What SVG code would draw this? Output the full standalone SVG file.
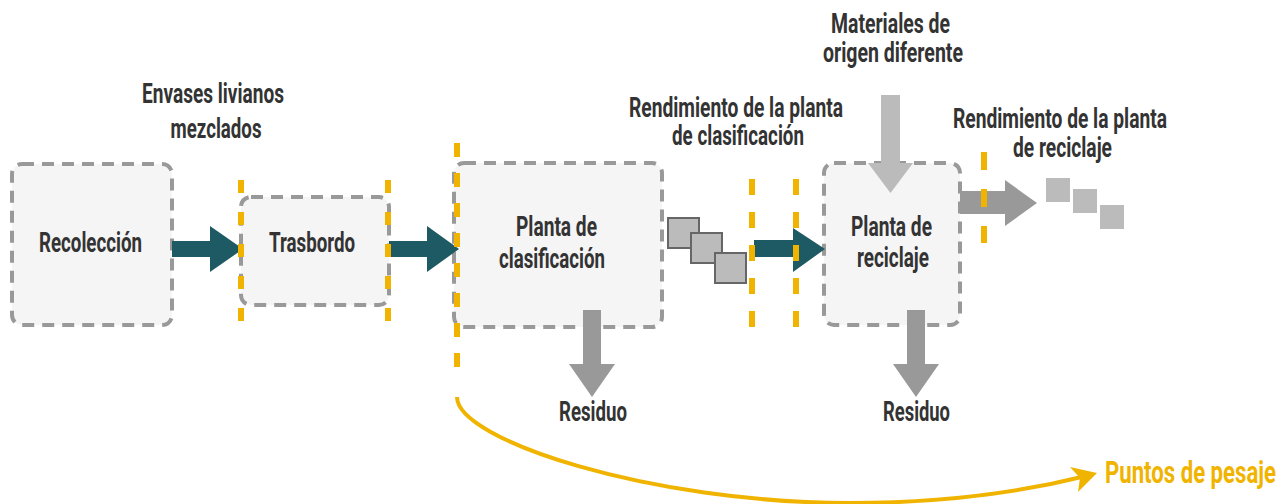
<svg xmlns="http://www.w3.org/2000/svg" width="1284" height="504" viewBox="0 0 1284 504">
<style>
.box{fill:#f5f5f5;stroke:#999;stroke-width:4;stroke-dasharray:12 8}
.t{font-family:Roboto,"Liberation Sans",sans-serif;font-weight:700;font-size:27px;fill:#333;text-anchor:middle}
.y{fill:none;stroke:#f0b400;stroke-width:6}
.teal{fill:#1e5a63}
.grey{fill:#999}
.light{fill:#bbb}
.sq{fill:#bbb;stroke:#666;stroke-width:2}
</style>
<rect width="1284" height="504" fill="#fff"/>
<g id="labels">
<text class="t" x="213" y="103" textLength="142" lengthAdjust="spacingAndGlyphs">Envases livianos</text>
<text class="t" x="216" y="138" textLength="91" lengthAdjust="spacingAndGlyphs">mezclados</text>
<text class="t" x="736" y="117" textLength="214" lengthAdjust="spacingAndGlyphs">Rendimiento de la planta</text>
<text class="t" x="738" y="145" textLength="132" lengthAdjust="spacingAndGlyphs">de clasificación</text>
<text class="t" x="890.5" y="33" textLength="119" lengthAdjust="spacingAndGlyphs">Materiales de</text>
<text class="t" x="893" y="62" textLength="140" lengthAdjust="spacingAndGlyphs">origen diferente</text>
<text class="t" x="1060" y="128" textLength="214" lengthAdjust="spacingAndGlyphs">Rendimiento de la planta</text>
<text class="t" x="1062.5" y="157" textLength="99" lengthAdjust="spacingAndGlyphs">de reciclaje</text>
</g>
<g id="recoleccion">
<rect class="box" x="12" y="164" width="160" height="161" rx="10"/>
<text class="t" x="90.5" y="252" textLength="103" lengthAdjust="spacingAndGlyphs">Recolección</text>
</g>
<g id="trasbordo">
<rect class="box" x="241" y="197" width="148" height="108" rx="10"/>
<text class="t" x="312" y="252" textLength="86" lengthAdjust="spacingAndGlyphs">Trasbordo</text>
</g>
<g id="clasificacion">
<rect class="box" x="454" y="163" width="208" height="164" rx="10"/>
<text class="t" x="556.5" y="236" textLength="81" lengthAdjust="spacingAndGlyphs">Planta de</text>
<text class="t" x="552" y="268" textLength="106" lengthAdjust="spacingAndGlyphs">clasificación</text>
</g>
<g id="reciclaje">
<rect class="box" x="824" y="163" width="136" height="162" rx="10"/>
<text class="t" x="891.5" y="236" textLength="81" lengthAdjust="spacingAndGlyphs">Planta de</text>
<text class="t" x="893" y="267" textLength="72" lengthAdjust="spacingAndGlyphs">reciclaje</text>
</g>
<g id="materiales-intermedios">
<rect class="sq" x="668" y="218" width="31" height="30"/>
<rect class="sq" x="691" y="233" width="31" height="30"/>
<rect class="sq" x="715" y="253" width="31" height="30"/>
</g>
<g id="materiales-reciclados">
<rect class="light" x="1046" y="178" width="24" height="24"/>
<rect class="light" x="1073" y="189" width="24" height="24"/>
<rect class="light" x="1100" y="205" width="24" height="24"/>
</g>
<g id="residuo1">
<text class="t" x="593" y="421" textLength="68" lengthAdjust="spacingAndGlyphs">Residuo</text>
</g>
<g id="residuo2">
<text class="t" x="916.5" y="421" textLength="67" lengthAdjust="spacingAndGlyphs">Residuo</text>
</g>
<g id="connectors">
<polygon class="teal" points="172,241 210,241 210,226 243,249 210,272 210,257 172,257"/>
<polygon class="teal" points="389,241 427,241 427,226 459,249 427,272 427,257 389,257"/>
<polygon class="teal" points="754,240 793,240 793,228 825,249 793,272 793,257 754,257"/>
<polygon class="grey" points="583,310 601,310 601,364 615,364 592,397 569,364 583,364"/>
<polygon class="grey" points="907,310 925,310 925,364 939,364 916,397 893,364 907,364"/>
<polygon class="grey" points="960,191 1005,191 1005,180 1037,203 1005,226 1005,214 960,214"/>
<polygon class="light" points="881,95 900,95 900,163 913,163 890.5,193 868,163 881,163"/>
</g>
<g id="puntos-de-pesaje">
<line class="y" x1="241" y1="180" x2="241" y2="326" stroke-dasharray="13 19"/>
<line class="y" x1="388" y1="180" x2="388" y2="326" stroke-dasharray="13 19"/>
<line class="y" x1="752" y1="179" x2="752" y2="327" stroke-dasharray="16 17"/>
<line class="y" x1="796" y1="179" x2="796" y2="327" stroke-dasharray="16 17"/>
<line class="y" x1="984" y1="152" x2="984" y2="243" stroke-dasharray="18 19"/>
<line class="y" x1="457" y1="143" x2="457" y2="372" stroke-dasharray="14 16"/>
<path d="M457,397 C457,440 650,503 850,503 C950,503 1030,490 1086,476" fill="none" stroke="#f0b400" stroke-width="4"/>
<path d="M1097,473 L1070,467 L1080,478 L1078,492 Z" fill="#f0b400"/>
<text class="t" x="1105" y="483" style="text-anchor:start;fill:#f0b400;font-size:32px" textLength="171" lengthAdjust="spacingAndGlyphs">Puntos de pesaje</text>
</g>
</svg>
